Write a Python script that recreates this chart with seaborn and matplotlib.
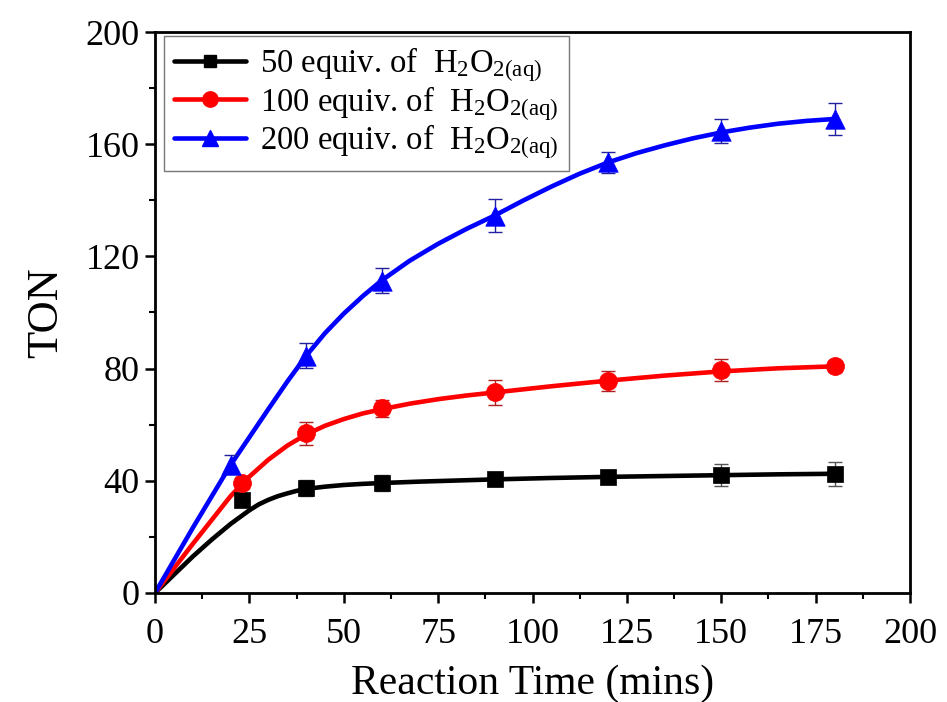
import matplotlib
matplotlib.use("Agg")
import matplotlib.pyplot as plt
from matplotlib.lines import Line2D
from matplotlib.ticker import MultipleLocator
import seaborn as sns

# ---- measured data ----
time_50 = [23, 40, 60, 90, 120, 150, 180]
ton_50 = [33.2, 37.4, 39.2, 40.6, 41.4, 42.0, 42.4]
err_50 = [2.0, 3.0, 2.8, 1.5, 1.5, 3.9, 4.2]

time_100 = [23, 40, 60, 90, 120, 150, 180]
ton_100 = [39.2, 56.9, 65.8, 71.5, 75.6, 79.5, 80.8]
err_100 = [2.0, 4.0, 3.0, 4.6, 3.7, 3.9, 2.0]

time_200 = [20, 40, 60, 90, 120, 150, 180]
ton_200 = [45.8, 84.6, 111.3, 134.5, 153.6, 164.8, 169.0]
err_200 = [3.5, 4.5, 4.5, 5.8, 3.7, 4.3, 5.8]

# ---- fitted curves ----
fit_x_50 = [0, 5, 10, 15, 20, 25, 27.5, 30, 32.5, 35, 37.5, 40, 45, 50, 55, 60,
            70, 80, 90, 105, 120, 135, 150, 165, 180]
fit_y_50 = [0, 6.5, 13, 19, 24.6, 29.5, 31.6, 33.2, 34.5, 35.5, 36.4, 37.1, 37.9,
            38.5, 38.9, 39.2, 39.7, 40.1, 40.5, 41.0, 41.4, 41.7, 42.0, 42.3, 42.5]

fit_x_100 = [0, 10, 20, 25, 30, 35, 40, 45, 50, 55, 60, 67.5, 75, 82.5, 90, 105,
             120, 135, 150, 165, 180]
fit_y_100 = [0, 17.5, 34.5, 41.5, 47.5, 52.5, 56.5, 59.6, 62.0, 64.0, 65.5, 67.5,
             69.1, 70.4, 71.5, 73.7, 75.7, 77.5, 79.0, 80.1, 80.8]

fit_x_200 = [0, 10, 20, 30, 35, 40, 45, 50, 55, 60, 67.5, 75, 82.5, 90, 97.5, 105,
             112.5, 120, 127.5, 135, 142.5, 150, 157.5, 165, 172.5, 180]
fit_y_200 = [0, 23.2, 45.6, 65.5, 75.3, 84.5, 92.6, 99.6, 105.8, 111.4, 118.5, 124.5,
             129.8, 134.6, 139.9, 144.9, 149.5, 153.5, 156.8, 159.6, 162.1, 164.2,
             165.9, 167.3, 168.3, 169.0]

labels = [r"50 equiv. of  H$_{2}$O$_{2\mathrm{(aq)}}$",
          r"100 equiv. of  H$_{2}$O$_{2\mathrm{(aq)}}$",
          r"200 equiv. of  H$_{2}$O$_{2\mathrm{(aq)}}$"]
x_ticks = [0, 25, 50, 75, 100, 125, 150, 175, 200]
y_ticks = [0, 40, 80, 120, 160, 200]

sns.set_theme(style="ticks")
plt.rcParams["font.family"] = ["Liberation Serif", "DejaVu Serif"]
plt.rcParams["mathtext.fontset"] = "custom"
plt.rcParams["mathtext.rm"] = "Liberation Serif"
plt.rcParams["mathtext.it"] = "Liberation Serif:italic"
plt.rcParams["text.color"] = "black"
plt.rcParams["axes.labelcolor"] = "black"
plt.rcParams["xtick.color"] = "black"
plt.rcParams["ytick.color"] = "black"

fig = plt.figure(figsize=(9.47, 7.02), dpi=100)
ax = fig.add_axes([0.1637, 0.1553, 0.7973, 0.7991])

series = [
    (time_50, ton_50, err_50, fit_x_50, fit_y_50, "black", "#555555", "s", 11),
    (time_100, ton_100, err_100, fit_x_100, fit_y_100, "#ff0000", "#b02020", "o", 13),
    (time_200, ton_200, err_200, fit_x_200, fit_y_200, "#0000ff", "#2020a0", "^", 14),
]

handles = []
for (tx, ty, te, fx, fy, col, ecol, mk, ms), lab in zip(series, labels):
    sns.lineplot(x=fx, y=fy, ax=ax, color=col, lw=3.3, sort=False, zorder=2,
                 solid_joinstyle="round", solid_capstyle="round")
    ax.errorbar(tx, ty, yerr=te, fmt="none", ecolor=ecol, elinewidth=1.0,
                capsize=5, capthick=1.0, zorder=3)
    sns.scatterplot(x=tx, y=ty, ax=ax, color=col, marker=mk, s=ms ** 2,
                    edgecolor=col, linewidth=0.5, zorder=4)
    handles.append(Line2D([], [], color=col, lw=3.3, marker=mk, markersize=ms * 0.85,
                          markeredgecolor=col, label=lab))

ax.set_xlim(0, 200)
ax.set_ylim(0, 200)
ax.set_xticks(x_ticks)
ax.set_yticks(y_ticks)
ax.xaxis.set_minor_locator(MultipleLocator(12.5))
ax.yaxis.set_minor_locator(MultipleLocator(20))
ax.tick_params(axis="both", which="major", direction="out", length=7, width=1.8,
               labelsize=26, top=False, right=False, pad=4)
ax.tick_params(axis="x", which="major", pad=11)
ax.tick_params(axis="both", which="minor", direction="out", length=4, width=1.5,
               top=False, right=False)
for sp in ax.spines.values():
    sp.set_linewidth(2.0)
    sp.set_color("black")
    sp.set_visible(True)

ax.set_xlabel("Reaction Time (mins)", fontsize=30, labelpad=10)
ax.set_ylabel("TON", fontsize=32, labelpad=14)

leg = ax.legend(handles=handles, loc="upper left", bbox_to_anchor=(0.012, 0.992),
                borderaxespad=0, fontsize=23.5, frameon=True, fancybox=False,
                handlelength=2.2, handletextpad=0.45, labelspacing=0.0, borderpad=0.3)
leg.get_frame().set_edgecolor("#555555")
leg.get_frame().set_linewidth(1.0)

fig.savefig("out.png", dpi=100, facecolor="white")
